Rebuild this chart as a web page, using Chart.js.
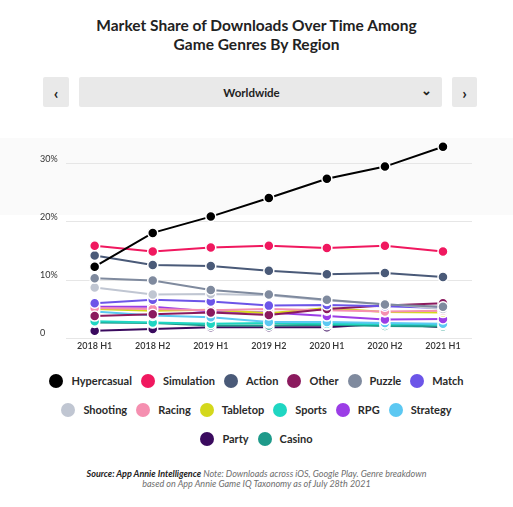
<!DOCTYPE html>
<html lang="en">
<head>
<meta charset="UTF-8">
<title>Market Share of Downloads Over Time Among Game Genres By Region</title>
<script src="https://cdn.jsdelivr.net/npm/chart.js@4.4.8/dist/chart.umd.min.js"></script>
<style>
  html, body { margin: 0; padding: 0; background: #fff; }
  body { width: 513px; height: 507px; position: relative; overflow: hidden; font-family: Lato, "Noto Sans", sans-serif; color: #222; }
  .title { position: absolute; top: 16px; left: 0; width: 513px; text-align: center; font-size: 15.5px; font-weight: 700; line-height: 19px; }
  .ctrl { position: absolute; top: 77px; height: 30px; background: #e9e9e9; border-radius: 2px; font-size: 11.5px; font-weight: 700; display: flex; align-items: center; justify-content: center; }
  #btnPrev, #btnNext { font-size: 16px; }
  #btnPrev { left: 43px; width: 26px; }
  #btnNext { left: 452px; width: 25px; }
  #region { left: 79px; width: 345px; padding-right: 18px; }
  #region .chev { position: absolute; right: 10px; top: 5px; font-size: 13px; }
  .wrap { position: absolute; left: 40px; top: 131px; width: 440px; height: 222px; }
  #legend { position: absolute; top: 366px; left: 0; width: 513px; }
  .lrow { display: flex; justify-content: center; height: 29px; align-items: center; }
  .litem { display: flex; align-items: center; margin: 0 4.5px; font-size: 11px; font-weight: 700; color: #2a2a2a; }
  .ldot { width: 14px; height: 14px; border-radius: 50%; margin-right: 8px; }
  .note { position: absolute; top: 469px; left: 0; width: 513px; text-align: center; font-size: 9px; line-height: 10px; font-style: italic; color: #6e6e6e; }
  .note b { color: #222; }
</style>
</head>
<body>
<svg width="513" height="507" style="position:absolute;left:0;top:0">
  <polygon points="0,138 513,138 513,215 0,215" fill="#fafafa"/>
</svg>
<div class="title">Market Share of Downloads Over Time Among<br>Game Genres By Region</div>
<div class="ctrl" id="btnPrev">&#8249;</div>
<div class="ctrl" id="region">Worldwide<span class="chev">&#8964;</span></div>
<div class="ctrl" id="btnNext">&#8250;</div>
<div class="wrap"><canvas id="chart"></canvas></div>
<div id="legend"></div>
<div class="note"><b>Source: App Annie Intelligence</b> Note: Downloads across iOS, Google Play. Genre breakdown<br>based on App Annie Game IQ Taxonomy as of July 28th 2021</div>

<script>
// periods on the x axis
const periods = ['2018 H1', '2018 H2', '2019 H1', '2019 H2', '2020 H1', '2020 H2', '2021 H1'];

// genre names, legend order
const genres = ['Hypercasual', 'Simulation', 'Action', 'Other', 'Puzzle', 'Match',
                'Shooting', 'Racing', 'Tabletop', 'Sports', 'RPG', 'Strategy', 'Party', 'Casino'];

const genreColors = ['#000000', '#f0185f', '#4a5a78', '#8b1a5e', '#7f8a9e', '#6c55e8',
                     '#c0c6d2', '#f58fb0', '#d4d81c', '#1fd6c2', '#9b3de6', '#5cc8f2', '#3a0a5e', '#1e9a8a'];

// market share (%) per genre
const hypercasual = [12.3, 18.1, 20.9, 24.1, 27.4, 29.5, 32.9];
const simulation  = [15.9, 14.9, 15.6, 15.9, 15.5, 15.9, 14.9];
const action      = [14.2, 12.6, 12.4, 11.6, 11.0, 11.2, 10.5];
const other       = [3.8, 4.1, 4.4, 4.0, 5.0, 5.6, 6.0];
const puzzle      = [10.3, 9.9, 8.3, 7.5, 6.6, 5.8, 5.4];
const match       = [6.0, 6.6, 6.3, 5.6, 5.7, 5.5, 5.2];
const shooting    = [8.7, 7.5, 7.6, 7.4, 6.5, 5.9, 5.0];
const racing      = [5.2, 5.0, 4.8, 5.0, 4.8, 4.6, 4.7];
const tabletop    = [5.0, 4.7, 4.9, 4.3, 5.2, 4.5, 4.4];
const sports      = [2.9, 2.7, 2.5, 2.6, 2.5, 2.4, 2.3];
const rpg         = [5.4, 5.4, 4.6, 4.4, 3.8, 3.2, 3.3];
const strategy    = [4.6, 3.9, 3.6, 2.8, 2.8, 2.6, 2.5];
const party       = [1.3, 1.6, 1.9, 1.9, 1.9, 2.5, 1.9];
const casino      = [2.7, 2.6, 2.2, 2.2, 2.3, 2.1, 2.0];

const series = [hypercasual, simulation, action, other, puzzle, match,
                shooting, racing, tabletop, sports, rpg, strategy, party, casino];

// y tick labels
const yTicks = [0, 10, 20, 30];
const legendRows = [6, 6, 2];

// draw big lines last so they sit on top
const drawOrder = [12, 13, 9, 11, 10, 8, 7, 3, 5, 6, 4, 2, 1, 0];

const datasets = drawOrder.map(i => ({
  label: genres[i],
  data: series[i],
  borderColor: genreColors[i],
  backgroundColor: genreColors[i],
  borderWidth: 2,
  pointRadius: 5,
  pointBorderColor: '#ffffff',
  pointBorderWidth: 1.5,
  pointHoverRadius: 5,
  tension: 0,
  order: drawOrder.length - drawOrder.indexOf(i)
}));

new Chart(document.getElementById('chart'), {
  type: 'line',
  data: { labels: periods, datasets: datasets },
  options: {
    responsive: true,
    maintainAspectRatio: false,
    animation: false,
    layout: { padding: { left: 0, right: 8, top: 0, bottom: 0 } },
    plugins: { legend: { display: false }, tooltip: { enabled: false } },
    scales: {
      x: {
        offset: true,
        grid: { display: false, drawTicks: false },
        border: { display: false },
        ticks: { color: '#333', font: { family: 'Lato', size: 9, weight: '600' }, padding: 2 }
      },
      y: {
        min: 0,
        max: 34,
        afterBuildTicks: axis => { axis.ticks = yTicks.map(v => ({ value: v })); },
        grid: { color: '#e6e6e6', drawTicks: false },
        border: { display: false },
        ticks: {
          color: '#333',
          font: { family: 'Lato', size: 9 },
          padding: 4,
          crossAlign: 'far',
          labelOffset: -5,
          callback: v => v === 0 ? '0' : v + '%'
        }
      }
    }
  }
});

// legend built from the same arrays
const legend = document.getElementById('legend');
let k = 0;
legendRows.forEach(n => {
  const row = document.createElement('div');
  row.className = 'lrow';
  for (let j = 0; j < n; j++, k++) {
    const item = document.createElement('div');
    item.className = 'litem';
    item.innerHTML = '<span class="ldot" style="background:' + genreColors[k] + '"></span>' + genres[k];
    row.appendChild(item);
  }
  legend.appendChild(row);
});
</script>
</body>
</html>
